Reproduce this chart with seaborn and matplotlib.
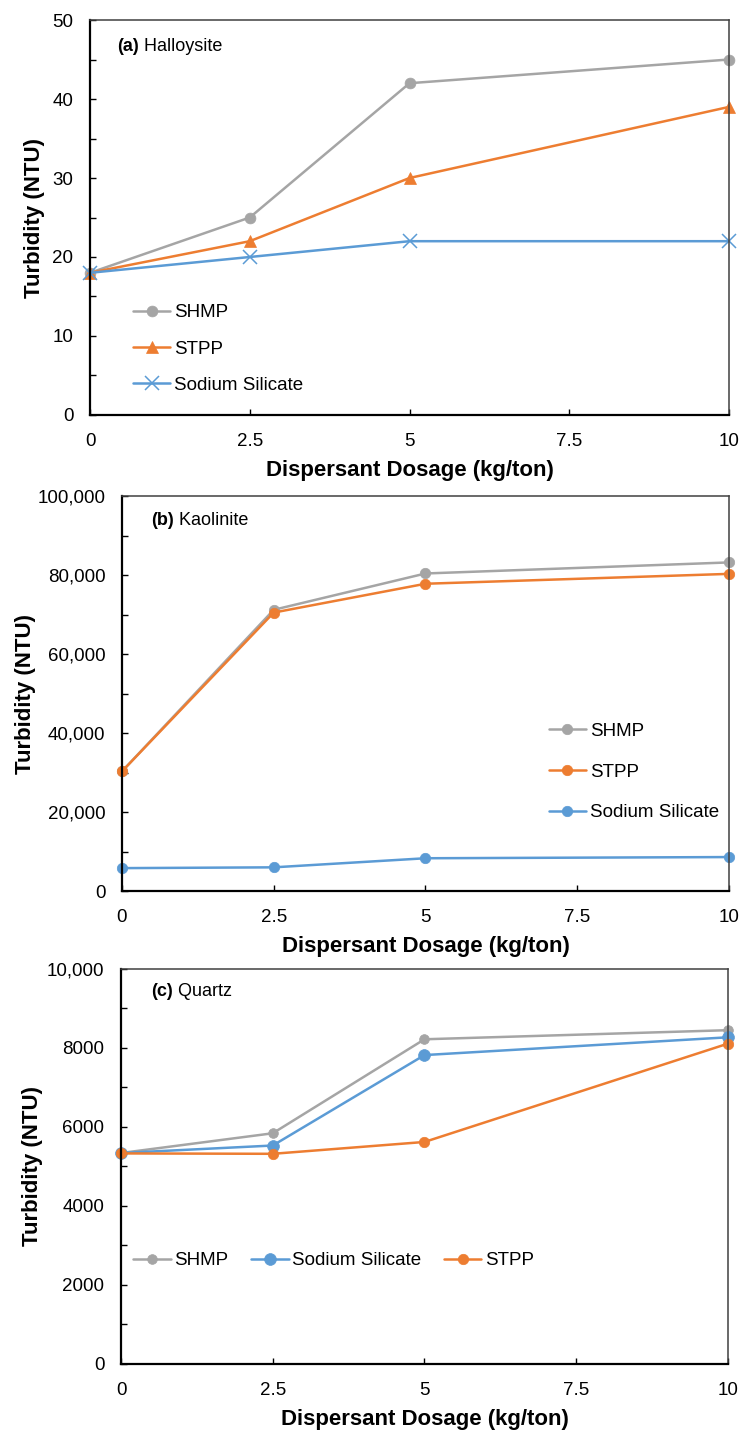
import numpy as np
import pandas as pd
import seaborn as sns
import matplotlib.pyplot as plt

# dosage (kg/ton)
dose = [0, 2.5, 5, 10]

# (a) Halloysite turbidity (NTU)
hal_shmp = [18, 25, 42, 45]
hal_stpp = [18, 22, 30, 39]
hal_silicate = [18, 20, 22, 22]

# (b) Kaolinite turbidity (NTU)
kao_shmp = [30300, 71200, 80400, 83200]
kao_stpp = [30300, 70500, 77800, 80300]
kao_silicate = [5800, 6000, 8300, 8600]

# (c) Quartz turbidity (NTU)
qtz_shmp = [5340, 5840, 8220, 8450]
qtz_silicate = [5340, 5530, 7820, 8270]
qtz_stpp = [5330, 5320, 5620, 8110]

x_ticks = [0, 2.5, 5, 7.5, 10]
x_ticklabels = ['0', '2.5', '5', '7.5', '10']
hal_yticks = [0, 10, 20, 30, 40, 50]
hal_yticklabels = ['0', '10', '20', '30', '40', '50']
kao_yticks = [0, 20000, 40000, 60000, 80000, 100000]
kao_yticklabels = ['0', '20,000', '40,000', '60,000', '80,000', '100,000']
qtz_yticks = [0, 2000, 4000, 6000, 8000, 10000]
qtz_yticklabels = ['0', '2000', '4000', '6000', '8000', '10,000']

GRAY = '#A5A5A5'
ORANGE = '#ED7D31'
BLUE = '#5B9BD5'

sns.set_style('ticks')
plt.rcParams['font.family'] = ['Liberation Sans', 'DejaVu Sans']
plt.rcParams['text.color'] = 'black'
plt.rcParams['axes.labelcolor'] = 'black'
plt.rcParams['xtick.color'] = 'black'
plt.rcParams['ytick.color'] = 'black'

fig = plt.figure(figsize=(7.42, 14.3), dpi=100)
ax_a = fig.add_axes([0.1213, 0.7098, 0.8612, 0.2762])
ax_b = fig.add_axes([0.1644, 0.3769, 0.8180, 0.2762])
ax_c = fig.add_axes([0.1631, 0.0462, 0.8180, 0.2762])


def series(ax, y, color, label, marker, ms, mew=0.5):
    sns.lineplot(x=dose, y=y, ax=ax, color=color, label=label, marker=marker,
                 markersize=ms, markeredgecolor=color, markerfacecolor=color,
                 markeredgewidth=mew, linewidth=1.8, clip_on=False)


def style_axes(ax, ymax, yticks, yticklabels, minor, ylabelpad):
    ax.set_xlim(0, 10)
    ax.set_ylim(0, ymax)
    ax.set_xticks(x_ticks)
    ax.set_xticklabels(x_ticklabels)
    ax.set_yticks(yticks)
    ax.set_yticklabels(yticklabels)
    ax.set_yticks(minor, minor=True)
    ax.tick_params(axis='both', which='both', direction='in', length=4,
                   width=1, labelsize=13.5, pad=13, colors='black')
    ax.tick_params(axis='y', which='both', pad=12)
    ax.tick_params(right=False, top=False)
    ax.set_xlabel('Dispersant Dosage (kg/ton)', fontsize=16, fontweight='bold', labelpad=7)
    ax.set_ylabel('Turbidity (NTU)', fontsize=16, fontweight='bold', labelpad=ylabelpad)
    for s in ['left', 'bottom']:
        ax.spines[s].set_color('black')
        ax.spines[s].set_linewidth(1.6)
    for s in ['top', 'right']:
        ax.spines[s].set_visible(True)
        ax.spines[s].set_color('#404040')
        ax.spines[s].set_linewidth(1.1)


def panel_title(ax, tag, name, x, y):
    t = ax.text(x, y, tag, transform=ax.transAxes, fontsize=13, fontweight='bold',
                va='center', ha='left')
    ax.annotate(' ' + name, xy=(1, 0.5), xycoords=t, fontsize=13, va='center', ha='left')


# (a) Halloysite
series(ax_a, hal_shmp, GRAY, 'SHMP', 'o', 7.8)
series(ax_a, hal_stpp, ORANGE, 'STPP', '^', 9)
series(ax_a, hal_silicate, BLUE, 'Sodium Silicate', 'x', 9.5, mew=1.1)
style_axes(ax_a, 50, hal_yticks, hal_yticklabels, [5, 15, 25, 35, 45], 5)
panel_title(ax_a, '(a)', 'Halloysite', 0.042, 0.932)
ax_a.legend(loc='center left', bbox_to_anchor=(0.067, 0.167), frameon=False,
            fontsize=13.5, borderpad=0, borderaxespad=0, handlelength=2.0,
            handletextpad=0.2, labelspacing=1.02)

# (b) Kaolinite
series(ax_b, kao_shmp, GRAY, 'SHMP', 'o', 7.5)
series(ax_b, kao_stpp, ORANGE, 'STPP', 'o', 7.5)
series(ax_b, kao_silicate, BLUE, 'Sodium Silicate', 'o', 7.5)
style_axes(ax_b, 100000, kao_yticks, kao_yticklabels,
           [10000, 30000, 50000, 70000, 90000], 1)
panel_title(ax_b, '(b)', 'Kaolinite', 0.048, 0.937)
ax_b.legend(loc='center left', bbox_to_anchor=(0.703, 0.301), frameon=False,
            fontsize=13.5, borderpad=0, borderaxespad=0, handlelength=2.0,
            handletextpad=0.2, labelspacing=1.26)

# (c) Quartz
series(ax_c, qtz_shmp, GRAY, 'SHMP', 'o', 7)
series(ax_c, qtz_silicate, BLUE, 'Sodium Silicate', 'o', 8.5)
series(ax_c, qtz_stpp, ORANGE, 'STPP', 'o', 7.5)
style_axes(ax_c, 10000, qtz_yticks, qtz_yticklabels,
           [1000, 3000, 5000, 7000, 9000], 3)
panel_title(ax_c, '(c)', 'Quartz', 0.049, 0.942)
ax_c.legend(loc='center left', bbox_to_anchor=(0.02, 0.261), frameon=False, ncol=3,
            fontsize=13.5, borderpad=0, borderaxespad=0, handlelength=2.0,
            handletextpad=0.2, columnspacing=1.2)

fig.savefig('out.png', dpi=100)
